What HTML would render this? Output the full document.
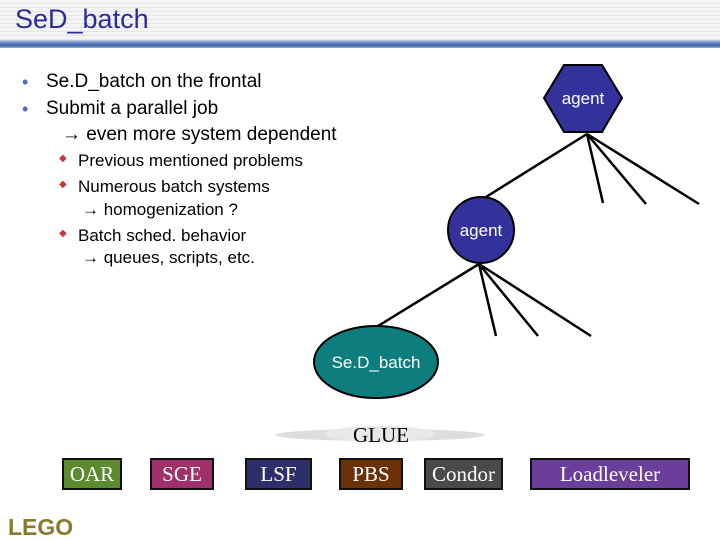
<!DOCTYPE html>
<html><head><style>
body{margin:0;width:720px;height:540px;overflow:hidden;background:#fff;font-family:"Liberation Sans",sans-serif;position:relative}
.t{position:absolute;white-space:nowrap;color:#000}
.b{position:absolute;top:458px;height:28px;border:2px solid #111;color:#fff;font-family:"Liberation Serif",serif;font-size:21px;text-align:center;line-height:28px}
</style></head><body>
<div style="position:absolute;left:0;top:0;width:720px;height:42px;background:repeating-linear-gradient(#f4f4f4 0 3px,#e6e6e6 3px 4px)"></div>
<div style="position:absolute;left:0;top:40px;width:720px;height:8px;background:linear-gradient(#c8d4ec,#6a8cc8,#3a5fa8,#9ab0d8)"></div>
<div class="t" style="left:15px;top:4px;font-size:27px;color:#2b2b9c">SeD_batch</div>
<div class="t" style="left:22px;top:72px;font-size:18px;color:#4a6fbf">•</div>
<div class="t" style="left:46px;top:71px;font-size:19px">Se.D_batch on the frontal</div>
<div class="t" style="left:22px;top:99px;font-size:18px;color:#4a6fbf">•</div>
<div class="t" style="left:46px;top:98px;font-size:19px">Submit a parallel job</div>
<div class="t" style="left:62px;top:124px;font-size:19px">→ even more system dependent</div>
<div class="t" style="left:59px;top:153px;font-size:10px;color:#c03a3a">◆</div>
<div class="t" style="left:78px;top:151px;font-size:17px">Previous mentioned problems</div>
<div class="t" style="left:59px;top:179px;font-size:10px;color:#c03a3a">◆</div>
<div class="t" style="left:78px;top:177px;font-size:17px">Numerous batch systems</div>
<div class="t" style="left:82px;top:200px;font-size:17px">→ homogenization ?</div>
<div class="t" style="left:59px;top:228px;font-size:10px;color:#c03a3a">◆</div>
<div class="t" style="left:78px;top:226px;font-size:17px">Batch sched. behavior</div>
<div class="t" style="left:82px;top:248px;font-size:17px">→ queues, scripts, etc.</div>
<svg width="720" height="540" style="position:absolute;left:0;top:0">
<g stroke="#000" stroke-width="2.5">
<line x1="587" y1="134" x2="486" y2="197"/><line x1="587" y1="134" x2="603" y2="203"/><line x1="587" y1="134" x2="646" y2="204"/><line x1="587" y1="134" x2="699" y2="204"/>
<line x1="479" y1="264" x2="378" y2="326"/><line x1="479" y1="264" x2="496" y2="336"/><line x1="479" y1="264" x2="538" y2="336"/><line x1="479" y1="264" x2="591" y2="336"/>
</g>
<polygon points="544,98 564,65 602,65 622,98 602,132 564,132" fill="#32329a" stroke="#000" stroke-width="2"/>
<circle cx="481" cy="230" r="33" fill="#32329a" stroke="#000" stroke-width="2"/>
<ellipse cx="376" cy="362" rx="62" ry="36" fill="#0d7d7d" stroke="#000" stroke-width="2"/>
<g fill="#fff" font-family="Liberation Sans" font-size="17" text-anchor="middle">
<text x="583" y="104">agent</text><text x="481" y="236">agent</text><text x="376" y="368">Se.D_batch</text></g>
<ellipse cx="380" cy="435" rx="105" ry="6" fill="#ddd"/>
<ellipse cx="380" cy="434" rx="55" ry="8" fill="#e8e8e8"/>
<text x="381" y="442" font-family="Liberation Serif" font-size="21" text-anchor="middle">GLUE</text>
<text x="8" y="535" font-family="Liberation Sans" font-weight="bold" font-size="23" fill="#8a7a30">LEGO</text>
</svg>
<div class="b" style="left:62px;width:56px;background:#5c8a2e">OAR</div>
<div class="b" style="left:150px;width:60px;background:#a0306a">SGE</div>
<div class="b" style="left:245px;width:63px;background:#2e2e6a">LSF</div>
<div class="b" style="left:339px;width:60px;background:#6a3206">PBS</div>
<div class="b" style="left:424px;width:75px;background:#4a4a4a">Condor</div>
<div class="b" style="left:530px;width:156px;background:#6a3e9a">Loadleveler</div>
</body></html>
